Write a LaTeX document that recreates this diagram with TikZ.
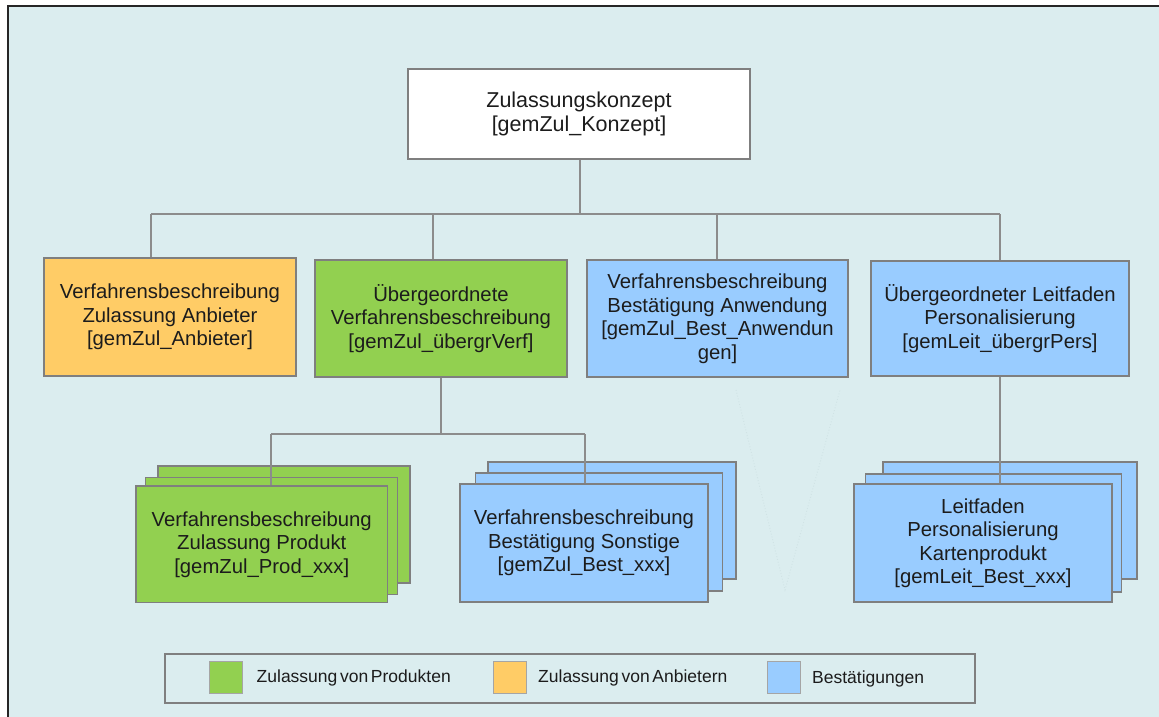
\documentclass[tikz,border=0pt]{standalone}
\usepackage{fontspec}
\setmainfont{Liberation Sans}
\newfontfamily\legendfont[WordSpace=0.55]{Liberation Sans}
\definecolor{bgc}{HTML}{DBEDEF}
\definecolor{orangec}{HTML}{FFCC66}
\definecolor{greenc}{HTML}{92D050}
\definecolor{bluec}{HTML}{99CCFF}
\definecolor{bordc}{HTML}{7F7F7F}
\definecolor{connc}{HTML}{8C8C8C}
\definecolor{txtc}{HTML}{1C1C1C}
\definecolor{faintc}{HTML}{D0E3E5}
\begin{document}
\begin{tikzpicture}[x=1pt,y=-1pt,
  boxst/.style={draw=bordc, line width=1.2pt, rectangle, inner sep=0pt, align=center,
    text=txtc, font=\fontsize{20.3}{23.5}\selectfont},
  conn/.style={draw=connc, line width=1.3pt},
  swatch/.style={draw=bordc!70, line width=1pt, rectangle, inner sep=0pt, minimum width=33pt, minimum height=32pt},
  legtext/.style={anchor=west, inner sep=0pt, text=txtc, font=\legendfont\fontsize{17.5}{20}\selectfont},
  faint/.style={draw=faintc, line width=0.9pt, dotted}
]
\useasboundingbox (0,0) rectangle (1159,717);
\fill[white] (0,0) rectangle (1159,717);
\fill[bgc] (8,6) rectangle (1159,717);
\draw[line width=2pt, black!85] (8,717) -- (8,6) -- (1159,6);

% faint artefact lines
\coordinate (v1) at (736,390);
\coordinate (v2) at (785,590);
\coordinate (v3) at (840,390);
\draw[faint] (v1) -- (v2) -- (v3);

% top level
\node[boxst, fill=white, minimum width=342pt, minimum height=90pt, font=\fontsize{21.5}{24}\selectfont] (top) at (579,114)
  {Zulassungskonzept\\{[}gemZul\_Konzept{]}};

% second level
\node[boxst, fill=orangec, minimum width=252pt, minimum height=118pt] (b1) at (170,317)
  {Verfahrensbeschreibung\\Zulassung Anbieter\\{[}gemZul\_Anbieter{]}};
\node[boxst, fill=greenc, minimum width=252pt, minimum height=117pt] (b2) at (441,318.5)
  {Übergeordnete\\Verfahrensbeschreibung\\{[}gemZul\_übergrVerf{]}};
\node[boxst, fill=bluec, minimum width=261pt, minimum height=117pt] (b3) at (717.5,318.5)
  {Verfahrensbeschreibung\\Bestätigung Anwendung\\{[}gemZul\_Best\_Anwendun\\gen{]}};
\node[boxst, fill=bluec, minimum width=258pt, minimum height=115pt] (b4) at (1000,318.5)
  {Übergeordneter Leitfaden\\Personalisierung\\{[}gemLeit\_übergrPers{]}};

% stacks: Produkt
\node[boxst, fill=greenc, minimum width=252pt, minimum height=117pt] (p2) at (284,524.5) {};
\node[boxst, fill=greenc, minimum width=252pt, minimum height=117pt] (p1) at (271.5,536) {};
\node[boxst, fill=greenc, minimum width=251.5pt, minimum height=116.5pt] (p0) at (261.75,544.25)
  {Verfahrensbeschreibung\\Zulassung Produkt\\{[}gemZul\_Prod\_xxx{]}};

% stacks: Bestaetigung Sonstige
\node[boxst, fill=bluec, minimum width=248pt, minimum height=117pt] (s2) at (612,520.5) {};
\node[boxst, fill=bluec, minimum width=247pt, minimum height=118pt] (s1) at (599,532) {};
\node[boxst, fill=bluec, minimum width=248pt, minimum height=118pt] (s0) at (584,543)
  {Verfahrensbeschreibung\\Bestätigung Sonstige\\{[}gemZul\_Best\_xxx{]}};

% stacks: Leitfaden
\node[boxst, fill=bluec, minimum width=254pt, minimum height=117pt] (l2) at (1010,520.5) {};
\node[boxst, fill=bluec, minimum width=256pt, minimum height=118pt] (l1) at (993.5,533) {};
\node[boxst, fill=bluec, minimum width=258pt, minimum height=118pt] (l0) at (983,543)
  {Leitfaden\\Personalisierung\\Kartenprodukt\\{[}gemLeit\_Best\_xxx{]}};

% connectors level 1
\coordinate (hub) at (580,214);
\coordinate (t1) at (151,214);
\coordinate (t2) at (433,214);
\coordinate (t3) at (717,214);
\coordinate (t4) at (1000,214);
\draw[conn] (top.south -| hub) -- (hub);
\draw[conn] (t1) -- (t4);
\draw[conn] (t1) -- (t1 |- b1.north);
\draw[conn] (t2) -- (t2 |- b2.north);
\draw[conn] (t3) -- (t3 |- b3.north);
\draw[conn] (t4) -- (t4 |- b4.north);

% connectors level 2
\coordinate (m) at (441,434);
\coordinate (m1) at (271,434);
\coordinate (m2) at (585,434);
\draw[conn] (b2.south) -- (m);
\draw[conn] (m1) -- (m2);
\draw[conn] (m1) -- (m1 |- p0.north);
\draw[conn] (m2) -- (m2 |- s0.north);
\draw[conn] (b4.south) -- (b4.south |- l0.north);

% legend
\node[draw=bordc, line width=1.2pt, rectangle, inner sep=0pt, minimum width=810pt, minimum height=49pt] (leg) at (570,678.5) {};
\node[swatch, fill=greenc] (sw1) at (225.5,677) {};
\node[swatch, fill=orangec] (sw2) at (509.5,677) {};
\node[swatch, fill=bluec] (sw3) at (783.5,677.5) {};
\node[legtext] (lt1) at (256.5,678) {Zulassung von Produkten};
\node[legtext] (lt2) at (538,678) {Zulassung von Anbietern};
\node[legtext] (lt3) at (812,678.5) {Bestätigungen};
\end{tikzpicture}
\end{document}
